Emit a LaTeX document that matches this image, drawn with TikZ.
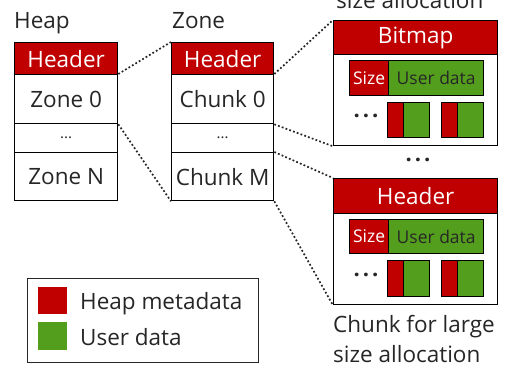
\documentclass[tikz,border=0pt]{standalone}
\usepackage{fontspec}
\setmainfont{Open Sans}
\definecolor{hred}{RGB}{192,0,0}
\definecolor{ugreen}{RGB}{84,158,30}
\definecolor{txt}{RGB}{38,38,38}
\begin{document}
\begin{tikzpicture}[x=1pt,y=-1pt,
  cell/.style={draw=black, line width=1.3pt, rectangle, inner sep=0pt, anchor=north west,
    font=\fontsize{22.5}{24}\selectfont, text=txt},
  hdr/.style={fill=hred, text=white},
  grn/.style={fill=ugreen, text=black!85},
  smalltxt/.style={font=\fontsize{17.5}{20}\selectfont},
  bigdots/.style={inner sep=0pt, font=\fontsize{22}{24}\bfseries, text=txt},
  lbl/.style={inner sep=0pt, anchor=base west, font=\fontsize{22.5}{24}\selectfont, text=txt},
  conn/.style={draw=txt, line width=1.7pt, dash pattern=on 1.8pt off 2.2pt}
]
\useasboundingbox (0,0) rectangle (506,365);

% Heap
\node[lbl] (lheap) at (14,28) {Heap};
\node[cell,hdr,minimum width=103pt,minimum height=32pt] (hH) at (14,42) {Header};
\node[cell,minimum width=103pt,minimum height=49pt] (hZ0) at (14,74) {Zone 0};
\node[cell,minimum width=103pt,minimum height=29pt,font=\fontsize{15}{18}\selectfont] (hD) at (14,123) {...};
\node[cell,minimum width=103pt,minimum height=48pt] (hZN) at (14,152) {Zone N};

% Zone
\node[lbl] (lzone) at (172,28) {Zone};
\node[cell,hdr,minimum width=102pt,minimum height=32pt] (zH) at (171,42) {Header};
\node[cell,minimum width=102pt,minimum height=49pt] (zC0) at (171,74) {Chunk 0};
\node[cell,minimum width=102pt,minimum height=29pt,font=\fontsize{15}{18}\selectfont] (zD) at (171,123) {...};
\node[cell,minimum width=102pt,minimum height=48pt] (zCM) at (171,152) {Chunk M};

% Top chunk (small size allocation)
\node[lbl] (ltop) at (336,8) {size allocation};
\node[cell,hdr,minimum width=164pt,minimum height=34pt] (tH) at (333,20) {Bitmap};
\node[cell,minimum width=164pt,minimum height=91pt] (tB) at (333,54) {};
\node[cell,hdr,smalltxt,minimum width=39pt,minimum height=35pt] (tS) at (349,60) {Size};
\node[cell,grn,smalltxt,minimum width=95pt,minimum height=35pt] (tU) at (388,60) {User data};
\node[cell,hdr,minimum width=16pt,minimum height=35pt] (tr1) at (387,102) {};
\node[cell,grn,minimum width=26pt,minimum height=35pt] (tg1) at (403,102) {};
\node[cell,hdr,minimum width=16pt,minimum height=35pt] (tr2) at (441,102) {};
\node[cell,grn,minimum width=26pt,minimum height=35pt] (tg2) at (457,102) {};
\node[bigdots] (tdots) at (366,116) {.\kern3pt.\kern3pt.};

% middle dots
\node[bigdots] (mdots) at (418,160) {.\kern3pt.\kern3pt.};

% Bottom chunk (large size allocation)
\node[cell,hdr,minimum width=164pt,minimum height=35pt] (bH) at (333,178) {Header};
\node[cell,minimum width=164pt,minimum height=91pt] (bB) at (333,213) {};
\node[cell,hdr,smalltxt,minimum width=39pt,minimum height=34pt] (bS) at (349,219) {Size};
\node[cell,grn,smalltxt,minimum width=95pt,minimum height=34pt] (bU) at (388,219) {User data};
\node[cell,hdr,minimum width=16pt,minimum height=36pt] (br1) at (387,260) {};
\node[cell,grn,minimum width=26pt,minimum height=36pt] (bg1) at (403,260) {};
\node[cell,hdr,minimum width=16pt,minimum height=36pt] (br2) at (441,260) {};
\node[cell,grn,minimum width=26pt,minimum height=36pt] (bg2) at (457,260) {};
\node[bigdots] (bdots) at (366,275) {.\kern3pt.\kern3pt.};
\node[lbl] (lbot1) at (333,332) {Chunk for large};
\node[lbl] (lbot2) at (333,362) {size allocation};

% connectors
\draw[conn] (hZ0.north east) -- (zH.north west);
\draw[conn] (hZ0.south east) -- (zCM.south west);
\draw[conn] (zC0.north east) -- (tH.north west);
\draw[conn] (zC0.south east) -- (tB.south west);
\draw[conn] (zCM.north east) -- (bH.north west);
\draw[conn] (zCM.south east) -- (bB.south west);

% legend
\node[draw=txt, line width=1pt, rectangle, inner sep=0pt, anchor=north west,
  minimum width=231pt, minimum height=84pt] (leg) at (27,278) {};
\node[fill=hred, inner sep=0pt, anchor=north west, minimum width=29pt, minimum height=27pt] (lred) at (38,287) {};
\node[fill=ugreen, inner sep=0pt, anchor=north west, minimum width=29pt, minimum height=28pt] (lgrn) at (38,322) {};
\node[lbl] (lhm) at (80,309) {Heap metadata};
\node[lbl] (lud) at (80,345) {User data};
\end{tikzpicture}
\end{document}
